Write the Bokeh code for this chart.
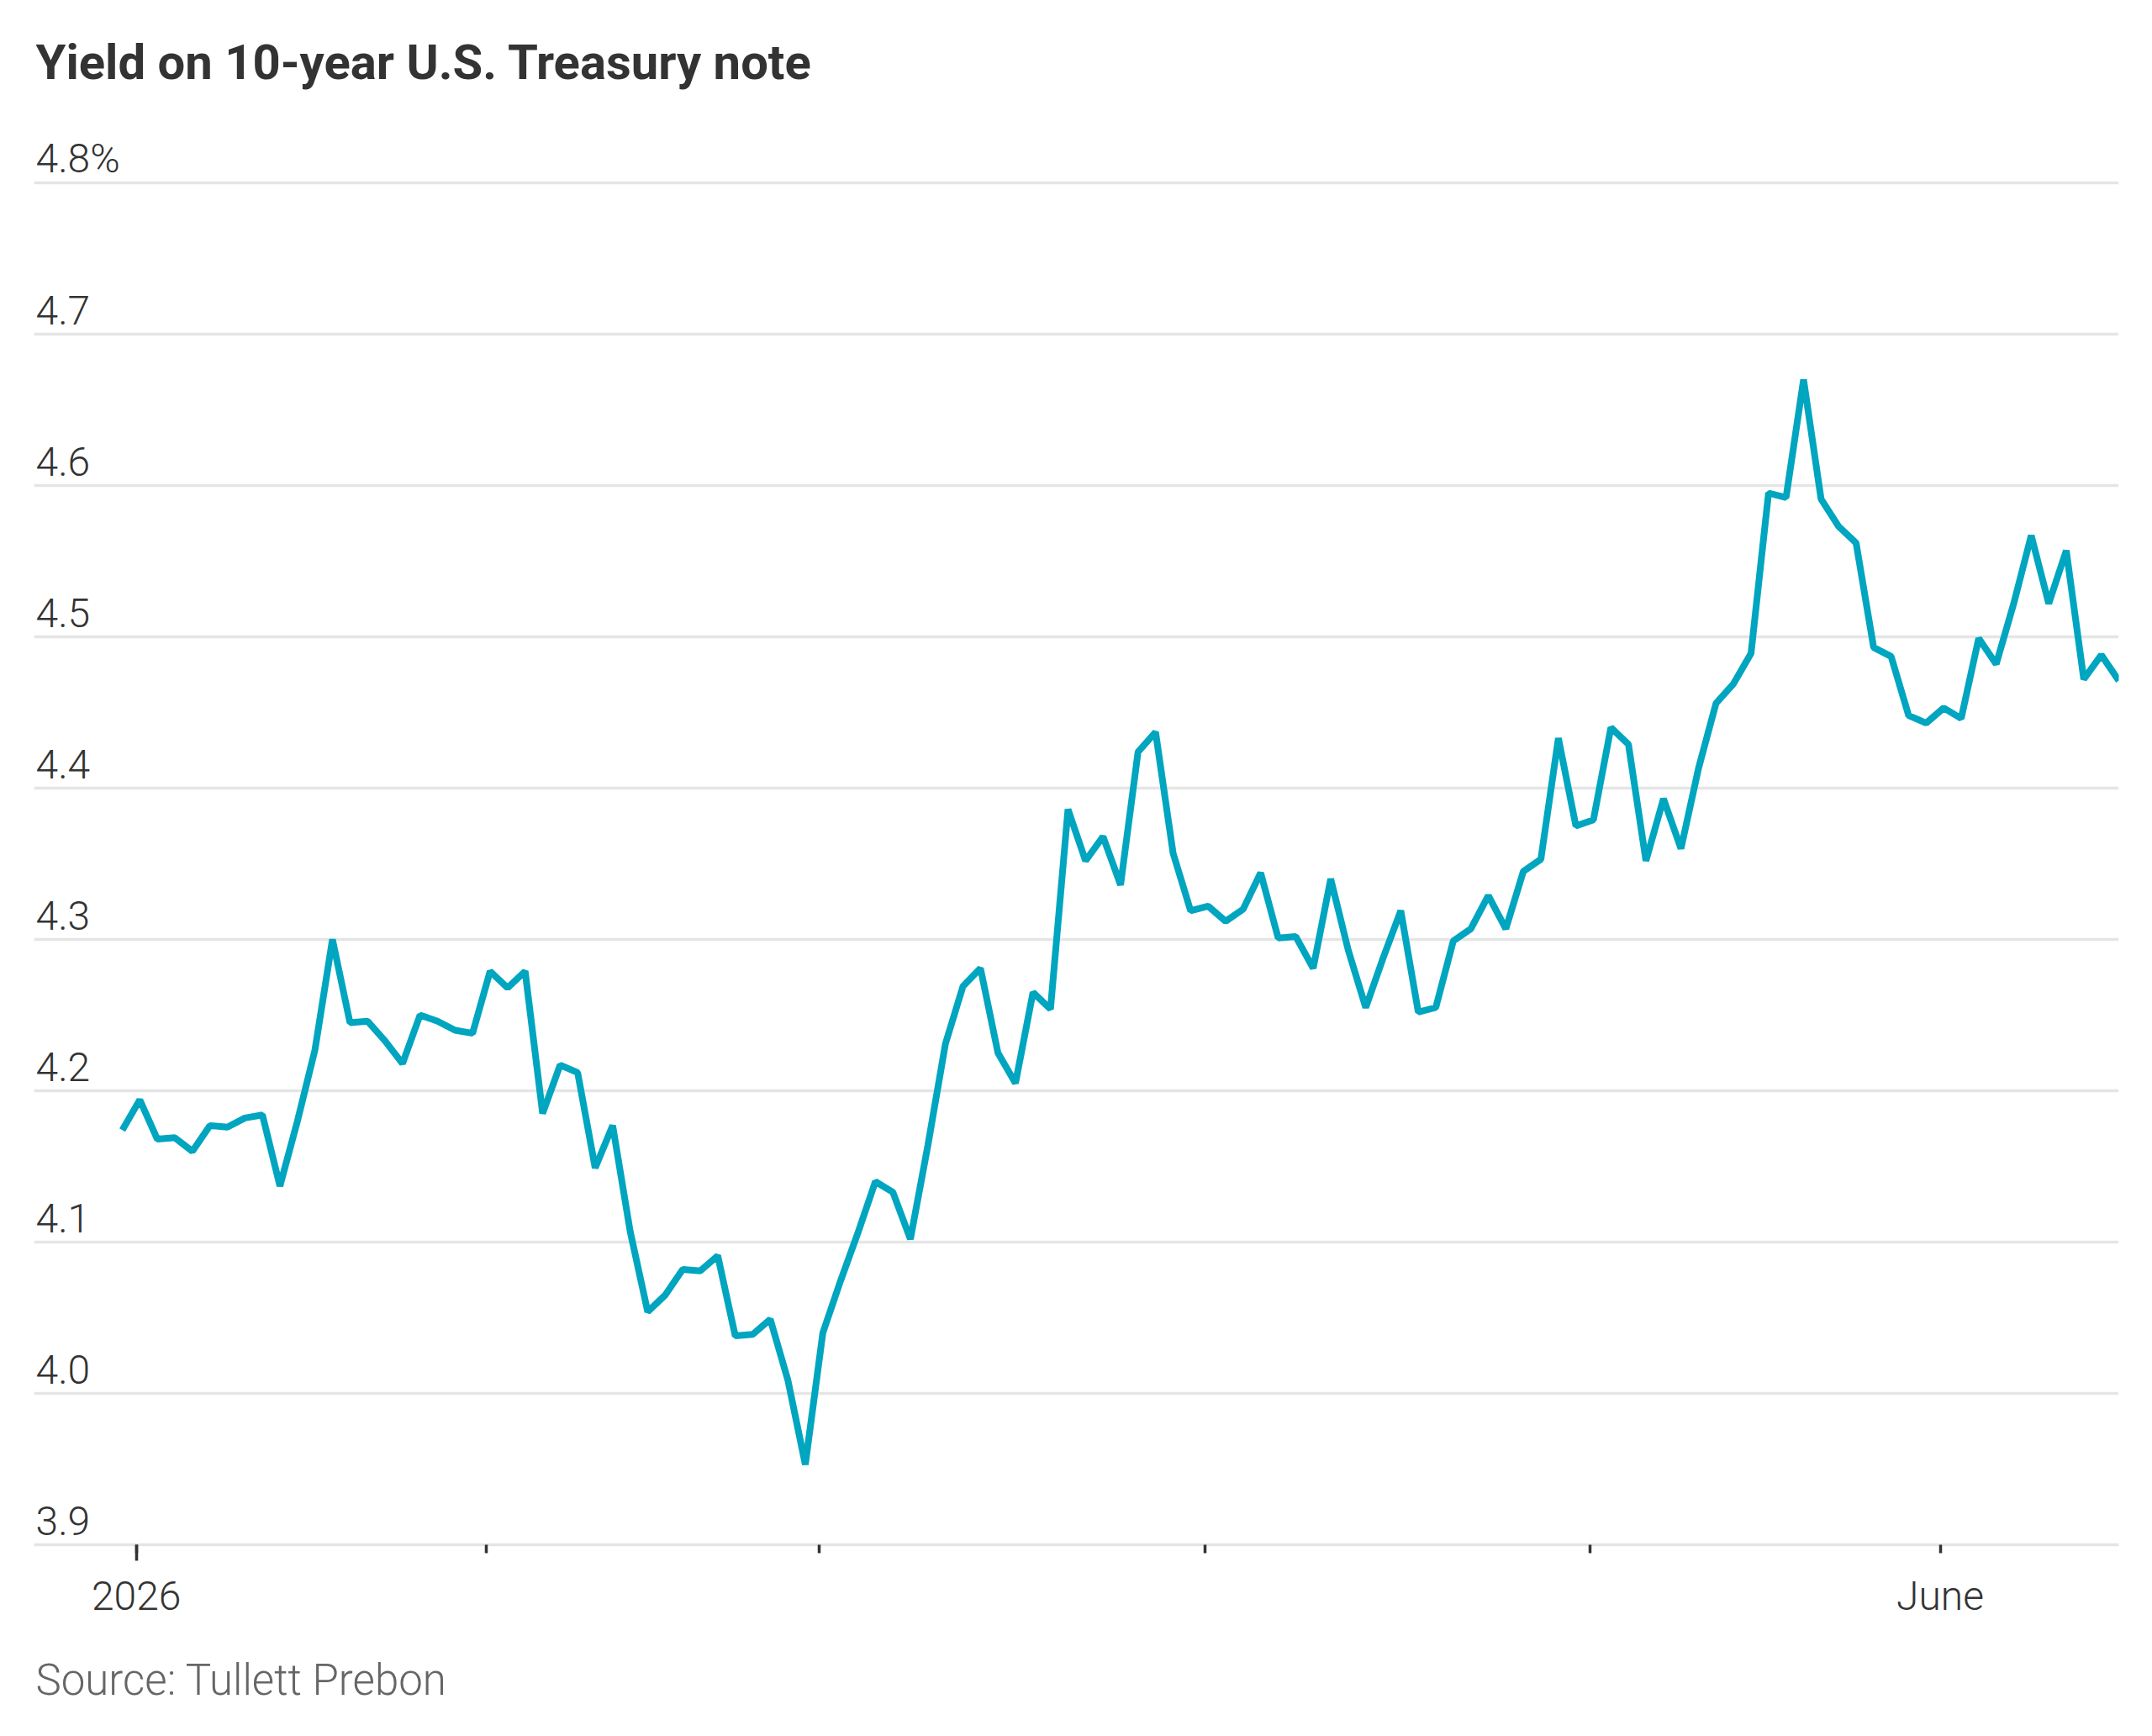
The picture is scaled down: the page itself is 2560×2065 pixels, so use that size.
from bokeh.plotting import figure
from bokeh.models import Range1d, FixedTicker, Title
from bokeh.embed import file_html
from bokeh.resources import INLINE
from bokeh.core.properties import value

# Daily 10-year Treasury yield, %, one value per trading session (Dec 31, 2025 onward)
yields = [
    4.174, 4.194, 4.168, 4.169, 4.160, 4.177, 4.176, 4.182, 4.184, 4.137,
    4.180, 4.227, 4.300, 4.245, 4.246, 4.233, 4.218, 4.250, 4.246, 4.240,
    4.238, 4.279, 4.268, 4.279, 4.185, 4.217, 4.212, 4.149, 4.177, 4.107,
    4.054, 4.065, 4.082, 4.081, 4.091, 4.038, 4.039, 4.049, 4.009, 3.953,
    4.040, 4.074, 4.106, 4.140, 4.133, 4.102, 4.164, 4.231, 4.269, 4.281,
    4.225, 4.205, 4.265, 4.254, 4.386, 4.352, 4.368, 4.336, 4.424, 4.437,
    4.357, 4.319, 4.322, 4.312, 4.320, 4.344, 4.301, 4.302, 4.281, 4.340,
    4.293, 4.255, 4.288, 4.319, 4.252, 4.255, 4.299, 4.307, 4.329, 4.307,
    4.345, 4.353, 4.433, 4.375, 4.379, 4.440, 4.429, 4.352, 4.393, 4.360,
    4.413, 4.456, 4.469, 4.489, 4.595, 4.592, 4.670, 4.591, 4.573, 4.562,
    4.493, 4.487, 4.448, 4.443, 4.453, 4.446, 4.499, 4.482, 4.522, 4.567,
    4.522, 4.557, 4.472, 4.488, 4.471,
]
sessions = list(range(len(yields)))

# Trading sessions in each month Jan..May, and the labels shown at month starts
sessions_per_month = [20, 19, 22, 22, 20]
month_labels = ["2026", "", "", "", "", "June"]

y_ticks = [3.9, 4.0, 4.1, 4.2, 4.3, 4.4, 4.5, 4.6, 4.7, 4.8]
y_labels = ["3.9", "4.0", "4.1", "4.2", "4.3", "4.4", "4.5", "4.6", "4.7", "4.8%"]

SOURCE = "Source: Tullett Prebon"

# month boundaries fall just before the first session of each month
month_ticks = [0.8]
for n in sessions_per_month:
    month_ticks.append(round(month_ticks[-1] + n, 2))

LINE_COLOR = "#00a5c0"
GRID_COLOR = "#e5e5e5"
TEXT_COLOR = "#333333"
SOURCE_COLOR = "#666666"
LIGHT = "'Roboto Light', Roboto, sans-serif"
BOLD = "Roboto, sans-serif"

W, H = 2560, 2065
TOP, BOTTOM = 140, 228
PX_PER_POINT = 1800  # vertical pixels per percentage point of yield
y_start = y_ticks[0]
y_end = y_start + (H - TOP - BOTTOM) / PX_PER_POINT

p = figure(
    width=W, height=H,
    x_range=Range1d(-5.04, 114), y_range=Range1d(y_start, y_end),
    output_backend="svg", toolbar_location=None,
    y_axis_location=None,
    min_border_left=40, min_border_right=40,
    min_border_top=TOP, min_border_bottom=BOTTOM,
    outline_line_color=None,
    background_fill_color="white", border_fill_color="white",
)

# title
p.title.text = "Yield on 10-year U.S. Treasury note"
p.title.text_font = BOLD
p.title.text_font_style = "bold"
p.title.text_font_size = "58px"
p.title.text_color = TEXT_COLOR
p.title.align = "left"
p.title.offset = 2
p.title.standoff = 66

# horizontal gridlines
p.xgrid.visible = False
p.ygrid.ticker = FixedTicker(ticks=y_ticks)
p.ygrid.grid_line_color = GRID_COLOR
p.ygrid.grid_line_width = 3.6

# month axis
ax = p.xaxis[0]
ax.ticker = FixedTicker(ticks=month_ticks, minor_ticks=[month_ticks[0]])
ax.major_label_overrides = {t: lab for t, lab in zip(month_ticks, month_labels)}
ax.axis_line_color = GRID_COLOR
ax.axis_line_width = 3.6
ax.major_tick_in = 0
ax.major_tick_out = 10
ax.minor_tick_in = 0
ax.minor_tick_out = 19
ax.major_tick_line_color = TEXT_COLOR
ax.minor_tick_line_color = TEXT_COLOR
ax.major_tick_line_width = 3.5
ax.minor_tick_line_width = 3.5
ax.major_label_text_font = LIGHT
ax.major_label_text_font_size = "48px"
ax.major_label_text_color = TEXT_COLOR
ax.major_label_standoff = 13

# source note, flush left under the month labels
p.add_layout(Title(
    text=SOURCE, align="left", offset=2, standoff=74,
    text_font=LIGHT, text_font_style="normal",
    text_font_size="51px", text_color=SOURCE_COLOR,
), "below")

# yield line
p.line(sessions, yields, line_color=LINE_COLOR, line_width=8)

# value labels sitting above each gridline at the left edge
p.text(
    x=[p.x_range.start] * len(y_ticks), y=y_ticks, text=y_labels,
    x_offset=2, y_offset=-29,
    text_font=value(LIGHT), text_font_size="48px", text_color=TEXT_COLOR,
    text_align="left", text_baseline="middle",
)

open("out.html", "w").write(file_html(p, INLINE))
